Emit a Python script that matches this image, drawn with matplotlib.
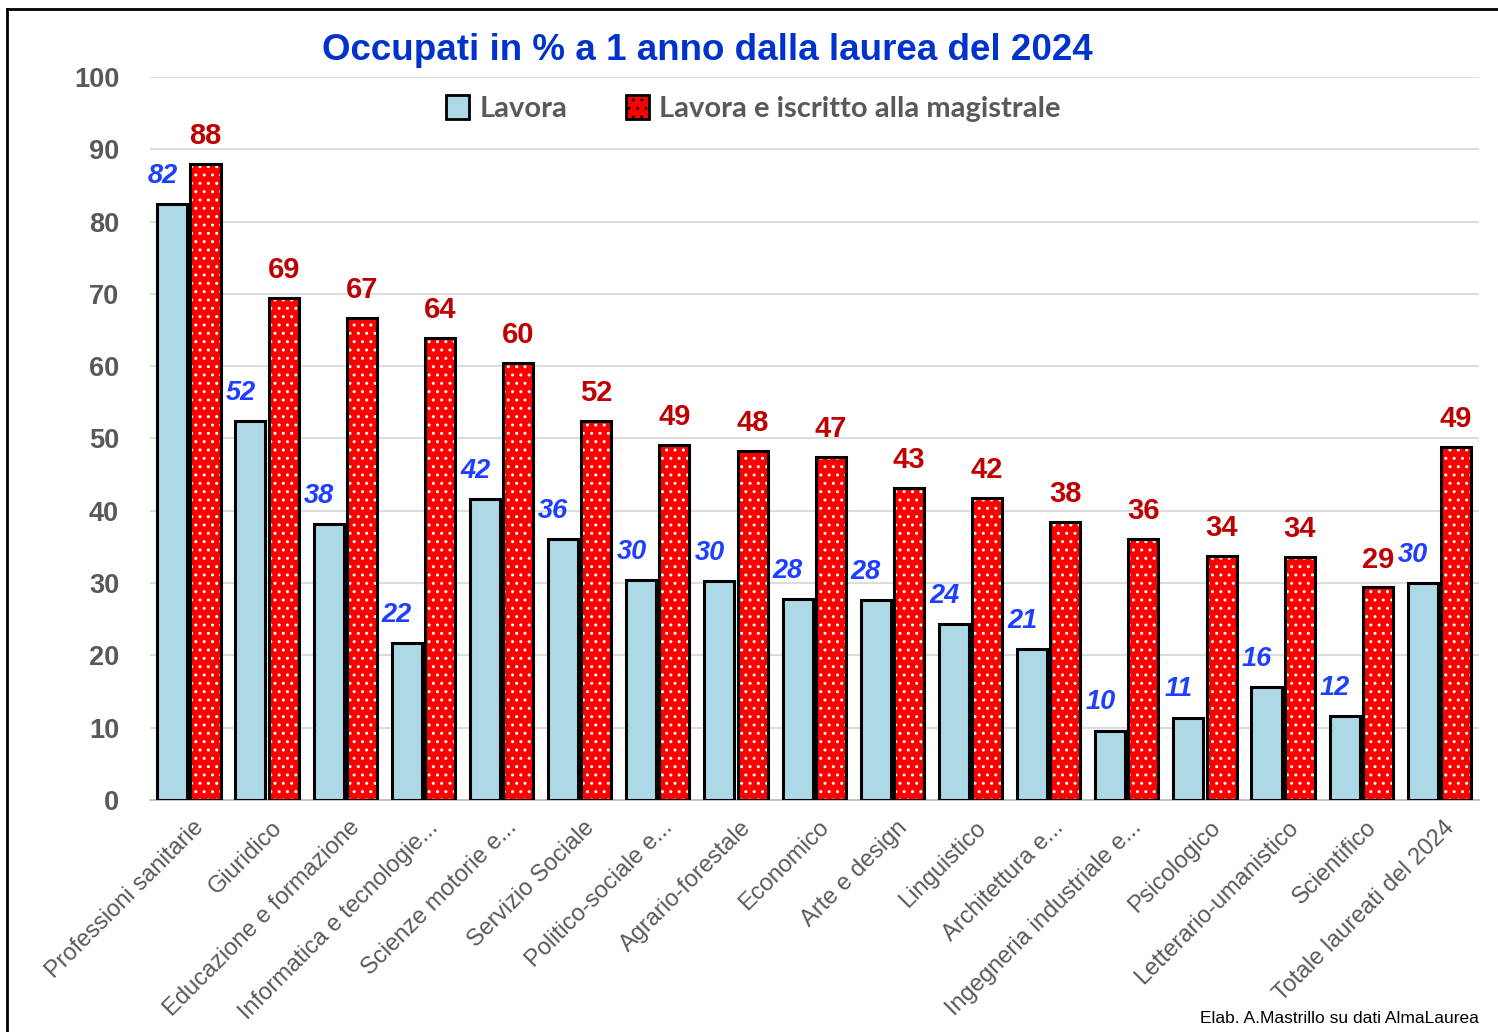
import matplotlib
matplotlib.use("Agg")
import matplotlib.pyplot as plt
from matplotlib.lines import Line2D
from matplotlib.patches import Patch
import numpy as np

plt.rcParams["font.family"] = ["Liberation Sans", "DejaVu Sans"]

categories = [
    "Professioni sanitarie", "Giuridico", "Educazione e formazione",
    "Informatica e tecnologie...", "Scienze motorie e...", "Servizio Sociale",
    "Politico-sociale e...", "Agrario-forestale", "Economico", "Arte e design",
    "Linguistico", "Architettura e...", "Ingegneria industriale e...",
    "Psicologico", "Letterario-umanistico", "Scientifico",
    "Totale laureati del 2024",
]
lavora = [82.4, 52.4, 38.2, 21.7, 41.6, 36.1, 30.4, 30.3, 27.8, 27.6,
          24.3, 20.9, 9.6, 11.4, 15.6, 11.6, 30.0]
lavora_mag = [88.0, 69.4, 66.7, 63.9, 60.4, 52.4, 49.1, 48.3, 47.4, 43.2,
              41.8, 38.5, 36.1, 33.7, 33.6, 29.4, 48.8]

BLUE_FILL = "#add8e6"
RED_FILL = "#ff0000"
GRAY = "#595959"

fig = plt.figure(figsize=(14.98, 10.32), dpi=100)
ax = fig.add_axes([0.1, 0.2248, 0.887, 0.7006])

x = np.arange(len(categories))
w = 0.385
gap = 0.02
xa = x - w / 2 - gap
xb = x + w / 2 + gap

ax.bar(xa, lavora, w, color=BLUE_FILL, edgecolor="black", linewidth=2.2, zorder=3)
# red bars with white dotted pattern, then black outline on top
ax.bar(xb, lavora_mag, w, color=RED_FILL, edgecolor="white", hatch="..",
       linewidth=0, zorder=3)
ax.bar(xb, lavora_mag, w, fill=False, edgecolor="black", linewidth=2.2, zorder=4)

for xi, v in zip(xa, lavora):
    ax.annotate(f"{v:.0f}", (xi, v), xytext=(-7, 11), textcoords="offset points",
                ha="center", va="bottom", color="#1f3fff", fontsize=19.5,
                fontweight="bold", fontstyle="italic")
for xi, v in zip(xb, lavora_mag):
    ax.annotate(f"{v:.0f}", (xi, v), xytext=(0, 10), textcoords="offset points",
                ha="center", va="bottom", color="#c00000", fontsize=21,
                fontweight="bold")

ax.set_ylim(0, 100)
ax.set_xlim(-0.5, len(categories) - 0.5)
ax.set_yticks(range(0, 101, 10))
ax.yaxis.grid(True, color="#d9d9d9", linewidth=1.3, zorder=0)
ax.set_axisbelow(True)
for s in ["top", "right", "left"]:
    ax.spines[s].set_visible(False)
ax.spines["bottom"].set_color("#bfbfbf")
ax.spines["bottom"].set_linewidth(1.3)
ax.tick_params(axis="y", length=0, pad=22, labelsize=19.5, labelcolor=GRAY)
for lab in ax.get_yticklabels():
    lab.set_fontweight("bold")
ax.set_xticks(x + 0.05)
ax.set_xticklabels(categories, rotation=45, ha="right", rotation_mode="anchor",
                   fontsize=17, color=GRAY)
ax.tick_params(axis="x", length=0, pad=12)

fig.text(0.472, 0.951, "Occupati in % a 1 anno dalla laurea del 2024",
         ha="center", va="center", color="#0033cc", fontsize=26.5, fontweight="bold")

handles = [
    Patch(facecolor=BLUE_FILL, edgecolor="black", linewidth=2),
    Patch(facecolor=RED_FILL, edgecolor="white", hatch="..", linewidth=2),
]
leg = fig.legend(handles, ["Lavora", "Lavora e iscritto alla magistrale"],
                 loc="center", bbox_to_anchor=(0.503, 0.895), ncol=2, frameon=False,
                 handlelength=0.8, handleheight=0.9, handletextpad=0.35,
                 columnspacing=2.0,
                 prop={"family": ["Lato", "DejaVu Sans"], "weight": "bold", "size": 21})
for t in leg.get_texts():
    t.set_color(GRAY)
for p in leg.get_patches():
    p.set_edgecolor("black")

fig.text(0.987, 0.013, "Elab. A.Mastrillo su dati AlmaLaurea", ha="right",
         va="center", fontsize=12.5, color="black")

# frame lines at top and left edges
fig.add_artist(Line2D([0.005, 1.0], [0.991, 0.991], color="black", linewidth=2,
                      transform=fig.transFigure))
fig.add_artist(Line2D([0.005, 0.005], [0.0, 0.991], color="black", linewidth=2,
                      transform=fig.transFigure))

fig.savefig("out.png", dpi=100)
